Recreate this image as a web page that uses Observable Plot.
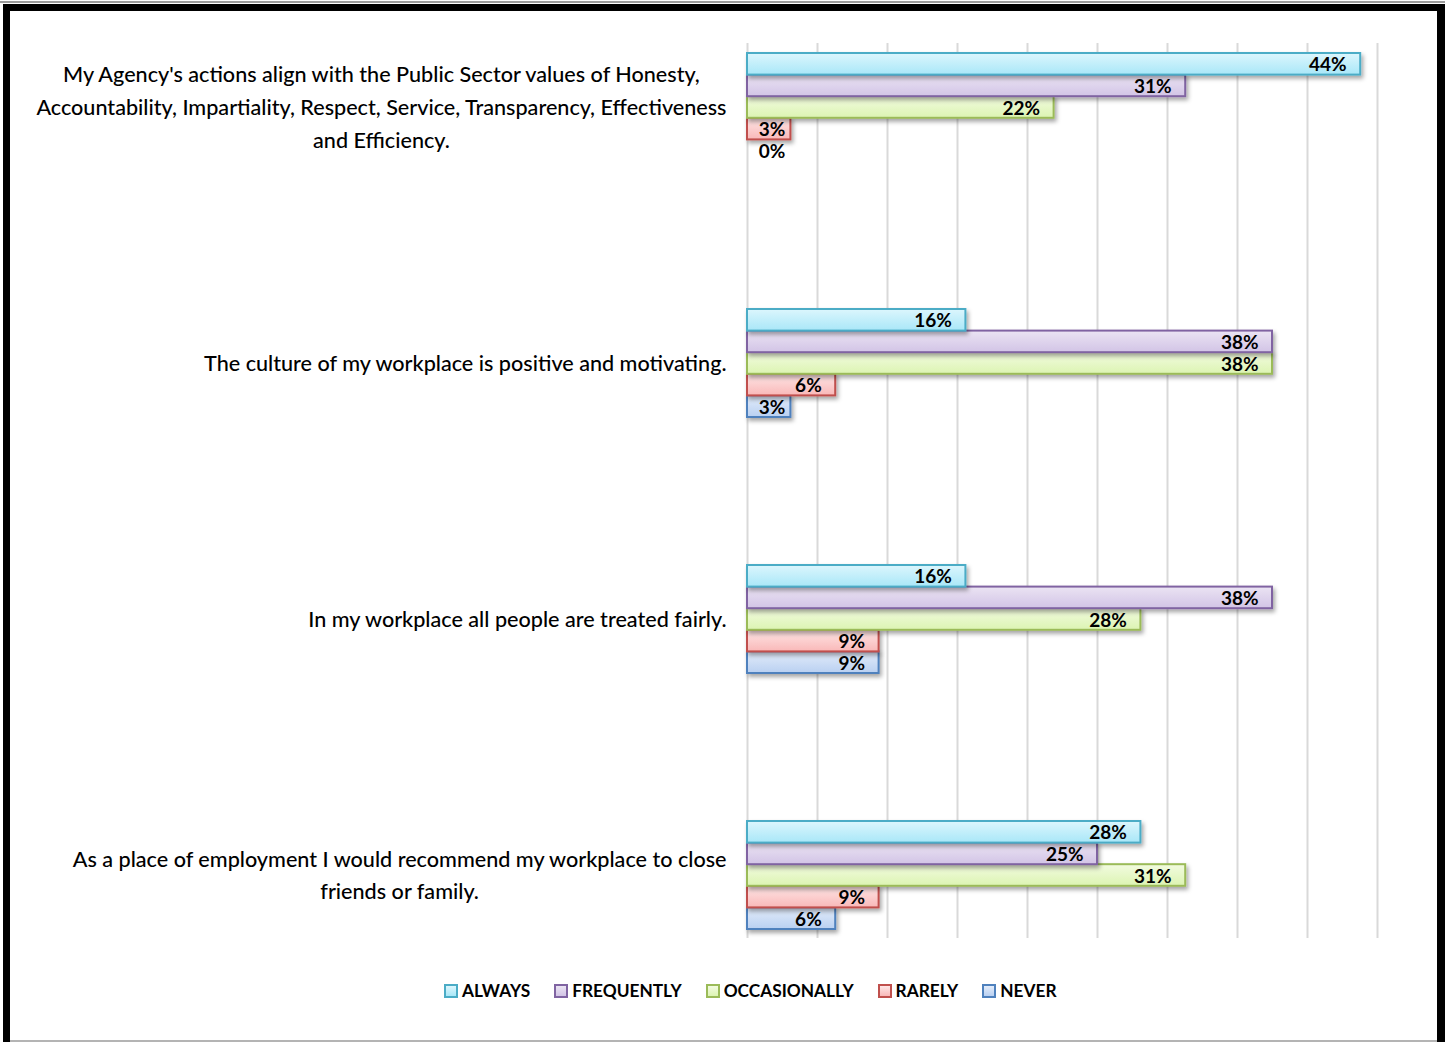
<!DOCTYPE html>
<html>
<head>
<meta charset="utf-8">
<script src="https://cdn.jsdelivr.net/npm/d3@7"></script>
<script src="https://cdn.jsdelivr.net/npm/@observablehq/plot@0.6"></script>
<style>
  body { margin: 0; background: #fff; }
  #page { position: relative; width: 1445px; height: 1042px; background: #fff; overflow: hidden; font-family: Lato, "Open Sans", sans-serif; color: #000; }
  #chart { position: absolute; left: 0; top: 0; }
  #topline { position: absolute; left: 0; top: 1px; width: 1445px; height: 2px; background: #9c9c9c; }
  #frame { position: absolute; left: 3px; top: 4px; width: 1427px; height: 1060px; border-left: 7px solid #000; border-top: 7px solid #000; border-right: 8px solid #000; pointer-events: none; }
  #bottomline { position: absolute; left: 10px; top: 1040px; width: 1427px; height: 2px; background: #b4b4b4; }
  #legend { position: absolute; left: 444px; top: 980px; display: flex; align-items: center; gap: 24px; font-weight: 700; font-size: 17.3px; }
  .item { display: flex; align-items: center; gap: 4px; }
  .sw { width: 10px; height: 10px; border: 2px solid; }
</style>
</head>
<body>
<div id="page">
  <div id="chart"></div>
  <div id="topline"></div>
  <div id="frame"></div>
  <div id="bottomline"></div>
  <div id="legend"></div>
</div>
<script>
// Survey statements (line breaks as they wrap in the chart)
const questions = [
  "My Agency's actions align with the Public Sector values of Honesty,\nAccountability, Impartiality, Respect, Service, Transparency, Effectiveness\nand Efficiency.",
  "The culture of my workplace is positive and motivating.",
  "In my workplace all people are treated fairly.",
  "As a place of employment I would recommend my workplace to close\nfriends or family."
];
const responses = ["ALWAYS", "FREQUENTLY", "OCCASIONALLY", "RARELY", "NEVER"];

// Share of respondents (%) per statement, one array per response
const always       = [43.8, 15.6, 15.6, 28.1];
const frequently   = [31.3, 37.5, 37.5, 25.0];
const occasionally = [21.9, 37.5, 28.1, 31.3];
const rarely       = [3.1, 6.3, 9.4, 9.4];
const never        = [0.0, 3.1, 9.4, 6.3];

// Vertical gridlines every 5%
const gridTicks = [0, 5, 10, 15, 20, 25, 30, 35, 40, 45];

const seriesValues = [always, frequently, occasionally, rarely, never];
const rows = questions.flatMap((q, qi) =>
  responses.map((r, ri) => ({question: q, response: r, value: seriesValues[ri][qi]}))
);

// Bar styling per response: gradient top/bottom and outline
const gradients = [
  ["#dcf6fd", "#a9e7f8"],
  ["#ebe4f3", "#d2c4e6"],
  ["#f2fbe0", "#dcf4b2"],
  ["#fee6e6", "#f9b8b8"],
  ["#e3ecfa", "#b9d0f1"]
];
const strokes = ["#4bacc6", "#8064a2", "#9bbb59", "#c0504d", "#4f81bd"];

const bandStep = 256;      // distance between statement groups
const barStep = 21.6;      // height of a single bar
const groupH = barStep * responses.length;

const barMarks = [];
const labelMarks = [];
// draw bottom bar first so upper outlines sit on top
for (let i = responses.length - 1; i >= 0; --i) {
  const data = rows.filter(d => d.response === responses[i]);
  const top = bandStep / 2 - groupH / 2 + i * barStep;
  barMarks.push(Plot.barX(data, {
    filter: d => d.value > 0,
    x: "value",
    y: "question",
    fill: `url(#grad-${i})`,
    stroke: strokes[i],
    strokeWidth: 2,
    insetTop: top,
    insetBottom: bandStep - top - barStep
  }));
  labelMarks.push(Plot.text(data, {
    x: d => Math.max(d.value, 3.7),
    y: "question",
    dy: -groupH / 2 + (i + 0.5) * barStep + 1,
    dx: -14,
    text: d => `${Math.round(d.value)}%`,
    textAnchor: "end",
    fontWeight: 700,
    fontSize: 19,
    fill: "#000"
  }));
}

const chart = Plot.plot({
  width: 1445,
  height: 965,
  marginLeft: 747,
  marginRight: 68,
  marginTop: 43,
  marginBottom: 27,
  style: {fontFamily: "Lato, 'Open Sans', sans-serif", background: "transparent", color: "#000"},
  x: {domain: [0, 45], axis: null},
  y: {domain: questions, range: [-21, 1003], padding: 0, axis: null},
  marks: [
    Plot.ruleX(gridTicks, {stroke: "#d9d9d9", strokeWidth: 2}),
    ...barMarks,
    ...labelMarks,
    Plot.text(questions, {
      y: d => d,
      frameAnchor: "left",
      dx: -21,
      dy: -3,
      text: d => d,
      textAnchor: "end",
      lineAnchor: "middle",
      fontSize: 21.6,
      fontWeight: 500,
      lineHeight: 1.52,
      fill: "#000",
      ariaDescription: "statement"
    })
  ]
});
document.getElementById("chart").appendChild(chart);

// gradients and soft drop shadow for the bars
const svg = d3.select(chart);
const defs = svg.insert("defs", ":first-child");
gradients.forEach(([a, b], i) => {
  const g = defs.append("linearGradient").attr("id", `grad-${i}`)
    .attr("x1", 0).attr("y1", 0).attr("x2", 0).attr("y2", 1);
  g.append("stop").attr("offset", "0%").attr("stop-color", a);
  g.append("stop").attr("offset", "100%").attr("stop-color", b);
});
defs.append("filter").attr("id", "shadow").attr("x", "-5%").attr("y", "-30%").attr("width", "120%").attr("height", "180%")
  .append("feDropShadow").attr("dx", 2).attr("dy", 3).attr("stdDeviation", 2)
  .attr("flood-color", "#000").attr("flood-opacity", 0.35);
svg.selectAll('g[aria-label="bar"]').attr("filter", "url(#shadow)");

// statements: lines centred within each block, block right-aligned to the axis
svg.selectAll('g[aria-description="statement"] text').each(function () {
  const w = this.getBBox().width;
  const t = d3.select(this);
  t.attr("text-anchor", "middle")
   .attr("transform", `${t.attr("transform") || ""} translate(${-w / 2},0)`);
});

// legend
const legend = d3.select("#legend");
responses.forEach((r, i) => {
  const item = legend.append("div").attr("class", "item");
  item.append("div").attr("class", "sw")
    .style("border-color", strokes[i])
    .style("background", `linear-gradient(${gradients[i][0]}, ${gradients[i][1]})`);
  item.append("span").text(r);
});
</script>
</body>
</html>
